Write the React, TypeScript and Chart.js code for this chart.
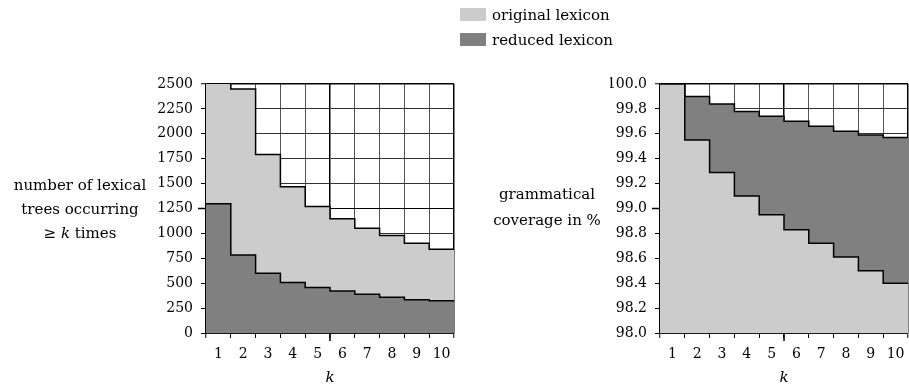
import React, { useEffect, useRef } from 'react';
import { Chart, registerables } from 'chart.js';

Chart.register(...registerables);

const FONT = '"DejaVu Serif", serif';

// ---- data ----
const categories = ['1', '2', '3', '4', '5', '6', '7', '8', '9', '10'];

// left panel: number of lexical trees occurring >= k times
const treesOriginal = [2600, 2450, 1792, 1468, 1271, 1146, 1052, 979, 902, 840];
const treesReduced = [1297, 784, 600, 507, 457, 422, 389, 359, 333, 323];
const treesTicks = [0, 250, 500, 750, 1000, 1250, 1500, 1750, 2000, 2250, 2500];

// right panel: grammatical coverage in %
const coverageLight = [100, 99.55, 99.29, 99.1, 98.95, 98.83, 98.72, 98.61, 98.5, 98.4];
const coverageDark = [100, 99.9, 99.84, 99.78, 99.74, 99.7, 99.66, 99.62, 99.59, 99.57];
const coverageTicks = [98.0, 98.2, 98.4, 98.6, 98.8, 99.0, 99.2, 99.4, 99.6, 99.8, 100.0];

const LIGHT = '#cccccc';
const DARK = '#808080';

function toSteps(values: number[]) {
  const pts = values.map((y, i) => ({ x: i, y }));
  pts.push({ x: values.length, y: values[values.length - 1] });
  return pts;
}

const midTicksPlugin = {
  id: 'midTicks',
  afterDraw(chart: any, _args: any, opts: any) {
    const { ctx, chartArea } = chart;
    const xd = chart.scales.xd;
    const y = chart.scales.y;
    if (!xd || !y) return;
    ctx.save();
    ctx.strokeStyle = '#000';
    ctx.lineWidth = 1.5;
    const px = xd.getPixelForValue(opts.xMid);
    ctx.beginPath();
    ctx.moveTo(px, chartArea.bottom);
    ctx.lineTo(px, chartArea.bottom + 8);
    ctx.stroke();
    const py = y.getPixelForValue(opts.yMid);
    ctx.beginPath();
    ctx.moveTo(chartArea.left, py);
    ctx.lineTo(chartArea.left - 8, py);
    ctx.stroke();
    ctx.restore();
  },
};

function makeConfig(opts: {
  light: number[];
  dark: number[];
  darkOnTop: boolean;
  ticks: number[];
  min: number;
  max: number;
  mid: number;
  decimals: number;
  padLeft: number;
  padRight: number;
  yWidth: number;
}): any {
  const lightDs = {
    label: 'original lexicon',
    data: toSteps(opts.light),
    xAxisID: 'xd',
    yAxisID: 'y',
    stepped: 'before',
    backgroundColor: LIGHT,
    borderColor: '#000',
    borderWidth: 1.5,
    pointRadius: 0,
    fill: 'start',
    order: opts.darkOnTop ? 2 : 1,
  };
  const darkDs = {
    label: 'reduced lexicon',
    data: toSteps(opts.dark),
    xAxisID: 'xd',
    yAxisID: 'y',
    stepped: 'before',
    backgroundColor: DARK,
    borderColor: '#000',
    borderWidth: 1.5,
    pointRadius: 0,
    fill: 'start',
    order: opts.darkOnTop ? 1 : 2,
  };
  const n = categories.length;
  return {
    type: 'line',
    data: {
      labels: categories,
      datasets: [lightDs, darkDs],
    },
    plugins: [midTicksPlugin],
    options: {
      animation: false,
      responsive: false,
      events: [],
      layout: { padding: { left: opts.padLeft, right: opts.padRight, top: 84, bottom: 0 } },
      plugins: {
        legend: { display: false },
        tooltip: { enabled: false },
        midTicks: { xMid: n / 2, yMid: opts.mid },
      },
      scales: {
        x: {
          type: 'category',
          offset: true,
          afterFit: (s: any) => {
            s.height = 57;
            s.paddingLeft = 0;
            s.paddingRight = 0;
          },
          grid: {
            offset: true,
            drawOnChartArea: true,
            color: (c: any) => (c.index === undefined || c.index === 0 || c.index === n / 2 ? '#000' : '#555'),
            lineWidth: (c: any) => (c.index === undefined || c.index === 0 || c.index === n / 2 ? 1.5 : 1),
            tickColor: '#000',
            tickWidth: 1,
            tickLength: 5,
          },
          border: { color: '#000', width: 1.5 },
          ticks: { color: '#000', font: { family: FONT, size: 14 }, padding: 8, maxRotation: 0, autoSkip: false },
          title: {
            display: true,
            text: 'k',
            color: '#000',
            font: { family: FONT, size: 15, style: 'italic' },
            padding: { top: 0, bottom: 3 },
          },
        },
        xd: {
          type: 'linear',
          display: false,
          min: 0,
          max: n,
        },
        y: {
          type: 'linear',
          min: opts.min,
          max: opts.max,
          afterFit: (s: any) => {
            s.width = opts.yWidth;
            s.paddingTop = 0;
            s.paddingBottom = 0;
          },
          afterBuildTicks: (s: any) => {
            s.ticks = opts.ticks.map((v) => ({ value: v }));
          },
          grid: {
            color: (c: any) =>
              c.tick && (Math.abs(c.tick.value - opts.max) < 1e-9 || Math.abs(c.tick.value - opts.mid) < 1e-9)
                ? '#000'
                : '#333',
            lineWidth: (c: any) => (c.tick && Math.abs(c.tick.value - opts.max) < 1e-9 ? 1.5 : 1),
            tickColor: '#000',
            tickWidth: 1,
            tickLength: 5,
          },
          border: { color: '#000', width: 1.5 },
          ticks: {
            color: '#000',
            font: { family: FONT, size: 14 },
            padding: 8,
            callback: (v: any) => Number(v).toFixed(opts.decimals),
          },
        },
      },
    },
  };
}

export default function App() {
  const leftRef = useRef<HTMLCanvasElement>(null);
  const rightRef = useRef<HTMLCanvasElement>(null);

  useEffect(() => {
    const left = new Chart(
      leftRef.current as HTMLCanvasElement,
      makeConfig({
        light: treesOriginal,
        dark: treesReduced,
        darkOnTop: true,
        ticks: treesTicks,
        min: 0,
        max: 2500,
        mid: 1250,
        decimals: 0,
        padLeft: 150,
        padRight: 6,
        yWidth: 56,
      })
    );
    const right = new Chart(
      rightRef.current as HTMLCanvasElement,
      makeConfig({
        light: coverageLight,
        dark: coverageDark,
        darkOnTop: false,
        ticks: coverageTicks,
        min: 98,
        max: 100,
        mid: 99,
        decimals: 1,
        padLeft: 150,
        padRight: 1,
        yWidth: 50,
      })
    );
    return () => {
      left.destroy();
      right.destroy();
    };
  }, []);

  const textStyle: React.CSSProperties = {
    position: 'absolute',
    fontFamily: FONT,
    fontSize: 15,
    color: '#000',
    whiteSpace: 'nowrap',
  };

  return (
    <div
      style={{
        position: 'fixed',
        left: 0,
        top: 0,
        width: 909,
        height: 390,
        background: '#fff',
        overflow: 'hidden',
      }}
    >
      <div style={{ position: 'absolute', left: 0, top: 0, width: 460, height: 390 }}>
        <canvas ref={leftRef} width={460} height={390} />
      </div>
      <div style={{ position: 'absolute', left: 460, top: 0, width: 449, height: 390 }}>
        <canvas ref={rightRef} width={449} height={390} />
      </div>

      {/* legend */}
      <div style={{ position: 'absolute', left: 460, top: 8, width: 26, height: 13, background: LIGHT }} />
      <div style={{ ...textStyle, left: 492, top: 6, lineHeight: '18px' }}>original lexicon</div>
      <div style={{ position: 'absolute', left: 460, top: 33, width: 26, height: 13, background: DARK }} />
      <div style={{ ...textStyle, left: 492, top: 31, lineHeight: '18px' }}>reduced lexicon</div>

      {/* left y title */}
      <div style={{ ...textStyle, left: 0, top: 173, width: 160, textAlign: 'center', lineHeight: '24px' }}>
        <div>number of lexical</div>
        <div>trees occurring</div>
        <div>
          ≥ <span style={{ fontStyle: 'italic' }}>k</span> times
        </div>
      </div>

      {/* right y title */}
      <div style={{ ...textStyle, left: 467, top: 182, width: 160, textAlign: 'center', lineHeight: '25.5px' }}>
        <div>grammatical</div>
        <div>coverage in %</div>
      </div>
    </div>
  );
}
